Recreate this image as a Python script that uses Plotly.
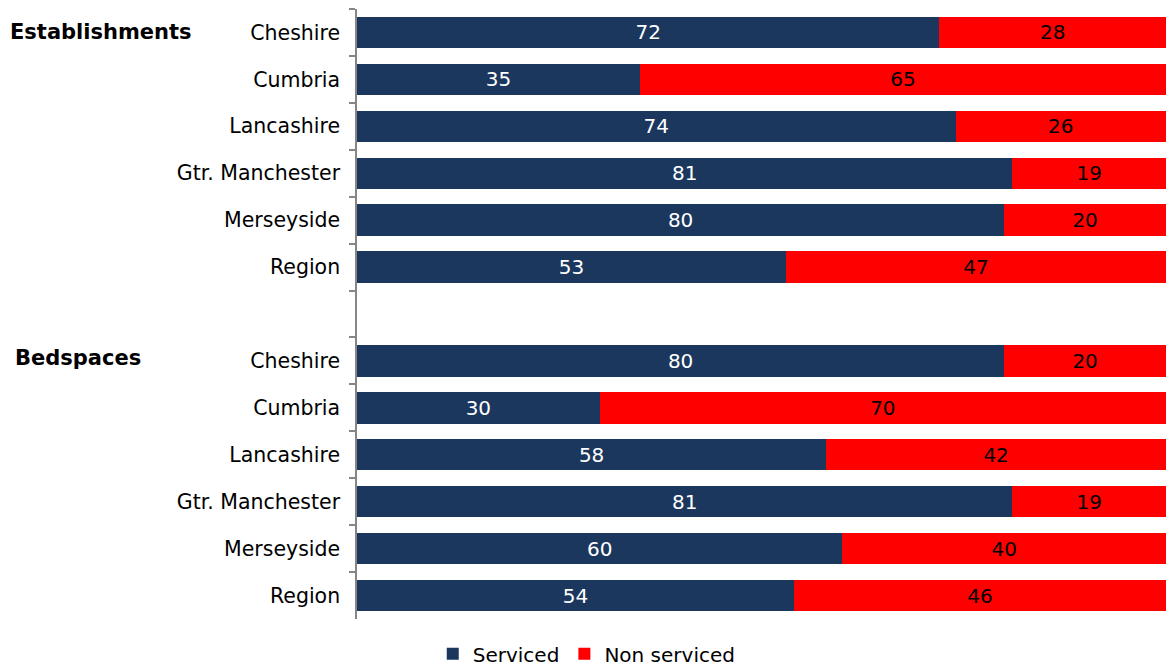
import plotly.graph_objects as go

groups = ["Establishments", "Bedspaces"]
areas = ["Cheshire", "Cumbria", "Lancashire", "Gtr. Manchester", "Merseyside", "Region"]
est_serviced = [72, 35, 74, 81, 80, 53]
est_non = [28, 65, 26, 19, 20, 47]
bed_serviced = [80, 30, 58, 81, 60, 54]
bed_non = [20, 70, 42, 19, 40, 46]

# unique category keys (second group gets a zero-width space suffix); blank row between groups
cats = areas + [" "] + [a + "\u200b" for a in areas]
serviced = est_serviced + [None] + bed_serviced
non_serviced = est_non + [None] + bed_non

NAVY = "#1b375e"
RED = "#ff0000"
FONT = "DejaVu Sans"
FS = 20

fig = go.Figure()
fig.add_trace(go.Bar(
    y=cats, x=serviced, orientation="h", name="Serviced",
    marker=dict(color=NAVY, line=dict(width=0)),
    text=[("" if v is None else str(v)) for v in serviced],
    textposition="inside", insidetextanchor="middle",
    textfont=dict(color="white", size=FS, family=FONT),
))
fig.add_trace(go.Bar(
    y=cats, x=non_serviced, orientation="h", name="Non serviced",
    marker=dict(color=RED, line=dict(width=0)),
    text=[("" if v is None else str(v)) for v in non_serviced],
    textposition="inside", insidetextanchor="middle",
    textfont=dict(color="black", size=FS, family=FONT),
))

fig.update_layout(
    barmode="stack",
    bargap=0.33,
    width=1166, height=668,
    margin=dict(l=357, r=0, t=9, b=49, autoexpand=False),
    plot_bgcolor="white", paper_bgcolor="white",
    font=dict(family=FONT, size=FS, color="black"),
    uniformtext=dict(minsize=10, mode="show"),
    showlegend=True,
    legend=dict(orientation="h", x=0.284, xanchor="center", y=-0.025, yanchor="top",
                font=dict(size=FS, family=FONT), traceorder="normal",
                itemwidth=30),
    xaxis=dict(range=[0, 100], visible=False, fixedrange=True),
    yaxis=dict(type="category", autorange="reversed",
               showline=True, linecolor="#868686", linewidth=1.5,
               ticks="outside", tickson="boundaries", ticklen=6, tickcolor="#868686",
               tickwidth=1.5, showgrid=False,
               tickfont=dict(size=20.5, family=FONT, color="black"),
               ticklabelstandoff=11),
)

fig.add_annotation(text="<b>" + groups[0] + "</b>", x=-0.431, xref="paper", xanchor="left",
                   y=cats[0], yref="y", showarrow=False,
                   font=dict(size=21, family=FONT, color="black"))
fig.add_annotation(text="<b>" + groups[1] + "</b>", x=-0.425, xref="paper", xanchor="left",
                   y=cats[7], yref="y", yshift=3, showarrow=False,
                   font=dict(size=21, family=FONT, color="black"))

fig.write_html(
    "out.html",
    config={"displayModeBar": False},
    post_script="document.body.style.margin='0';document.body.style.overflow='hidden';",
)
